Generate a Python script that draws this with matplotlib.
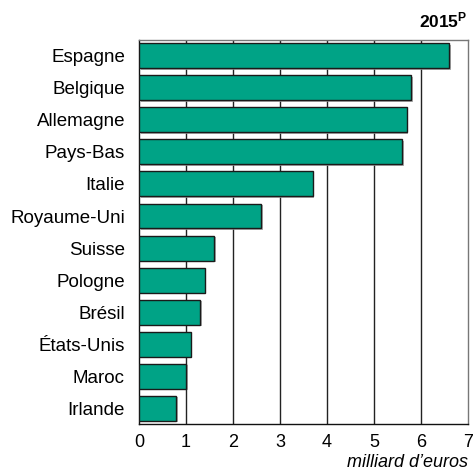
import matplotlib.pyplot as plt
import matplotlib.patheffects as pe

pays = ["Espagne", "Belgique", "Allemagne", "Pays-Bas", "Italie", "Royaume-Uni",
        "Suisse", "Pologne", "Brésil", "États-Unis", "Maroc", "Irlande"]
valeurs = [6.6, 5.8, 5.7, 5.6, 3.7, 2.6, 1.6, 1.4, 1.3, 1.1, 1.0, 0.8]
ticks_x = [0, 1, 2, 3, 4, 5, 6, 7]

plt.rcParams['font.family'] = ['Liberation Sans', 'DejaVu Sans']
plt.rcParams['mathtext.fontset'] = 'custom'
plt.rcParams['mathtext.bf'] = 'Liberation Sans:bold'
plt.rcParams['mathtext.rm'] = 'Liberation Sans'

fig = plt.figure(figsize=(4.74, 4.74), dpi=100)
ax = fig.add_axes([0.293, 0.105, 0.694, 0.811])

pos = list(range(len(pays)))
bars = ax.barh(pos, valeurs, height=0.78, color='#00a386', edgecolor='#1a1a1a',
               linewidth=1.0, zorder=3)
for b in bars:
    b.set_path_effects([pe.SimplePatchShadow(offset=(1.2, -1.2), shadow_rgbFace='#999999', alpha=0.8),
                        pe.Normal()])

ax.set_xlim(0, 7)
ax.set_ylim(len(pays) - 0.5, -0.5)
ax.set_xticks(ticks_x)
ax.set_xticklabels([str(t) for t in ticks_x], fontsize=13)
ax.set_yticks(pos)
ax.set_yticklabels(pays, fontsize=13.5)
ax.tick_params(axis='y', length=0, pad=10)
ax.tick_params(axis='x', length=0, pad=7)

for x in ticks_x[1:-1]:
    ax.axvline(x, color='#222222', lw=1.0, zorder=1)

ax.spines['left'].set_color('#111111')
ax.spines['bottom'].set_color('#111111')
ax.spines['top'].set_color('#777777')
ax.spines['right'].set_color('#777777')
for s in ax.spines.values():
    s.set_linewidth(1.0)

fig.text(0.987, 0.956, r"$\mathbf{2015^{P}}$", ha='right', va='center',
         fontsize=12.5)
fig.text(0.987, 0.025, "milliard d’euros", ha='right', va='center',
         fontsize=13, style='italic')

fig.savefig('out.png', dpi=100)
